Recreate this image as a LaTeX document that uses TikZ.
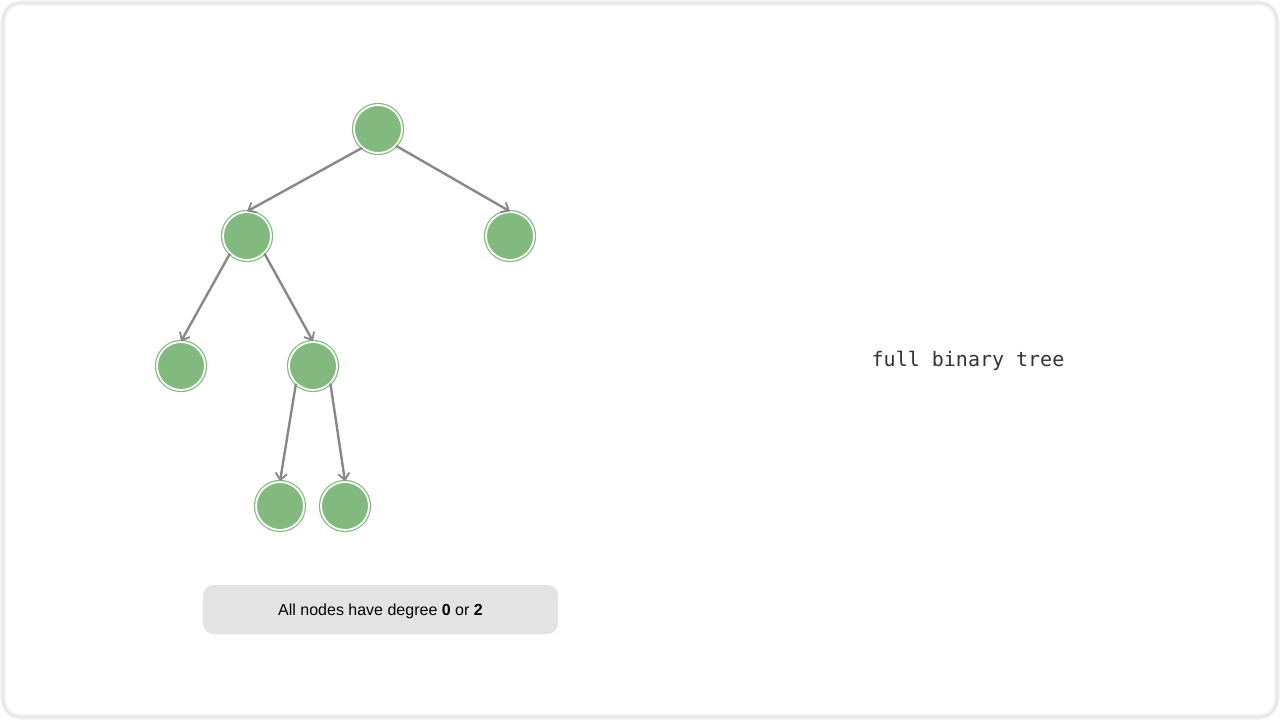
\documentclass[tikz,border=0pt]{standalone}
\usepackage{fontspec}
\setmainfont{Liberation Sans}
\newfontfamily\monofont{DejaVu Sans Mono}
\usetikzlibrary{arrows.meta}

\definecolor{leafgreen}{HTML}{82B97F}
\definecolor{edgegray}{HTML}{888888}
\definecolor{boxgray}{HTML}{E3E3E3}
\definecolor{textgray}{HTML}{333333}

\begin{document}
\begin{tikzpicture}[x=0.75pt,y=-0.75pt,
  tnode/.style={circle, inner sep=0pt, fill=leafgreen, draw=leafgreen, double=white, double distance=1.4pt, line width=0.9pt, minimum size=36pt},
  tedge/.style={draw=edgegray, line width=1.8pt, -{Straight Barb[length=5pt,width=8.5pt,line width=1.4pt]}}]

\useasboundingbox (0,0) rectangle (1280,720);
\fill[white] (0,0) rectangle (1280,720);
\draw[gray!10, line width=4pt, rounded corners=14pt] (3,3) rectangle (1277,717);
\draw[gray!22, line width=1pt, rounded corners=13pt] (3,3) rectangle (1277,717);

% tree
\node[tnode] (n0) at (378,129) {};
\node[tnode] (n1) at (247,236) {};
\node[tnode] (n2) at (510,236) {};
\node[tnode] (n3) at (181,366) {};
\node[tnode] (n4) at (313,366) {};
\node[tnode] (n5) at (280,506) {};
\node[tnode] (n6) at (345,506) {};

\draw[tedge] (n0.-130) -- (n1.north);
\draw[tedge] (n0.-43) -- (n2.north);
\draw[tedge] (n1.-134) -- (n3.north);
\draw[tedge] (n1.-45) -- (n4.north);
\draw[tedge] (n4.-134) -- (n5.north);
\draw[tedge] (n4.-45) -- (n6.north);

% caption box
\fill[boxgray, rounded corners=8pt] (203,585) rectangle (558,634);
\node[font=\fontsize{12}{14}\selectfont] (cap) at (380.5,611) {All nodes have degree \textbf{0} or \textbf{2}};

\node[text=textgray, font=\monofont\fontsize{15}{18}\selectfont] (title) at (968,361) {full binary tree};

\end{tikzpicture}
\end{document}
